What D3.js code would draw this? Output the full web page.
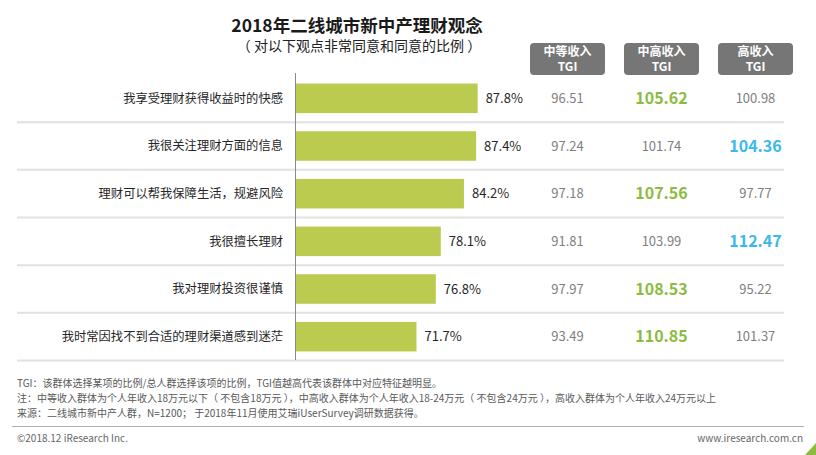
<!DOCTYPE html>
<html>
<head>
<meta charset="utf-8">
<script src="https://cdn.jsdelivr.net/npm/d3@7"></script>
<style>
  html, body { margin: 0; padding: 0; background: #fff; }
  svg { display: block; font-family: "Noto Sans CJK SC", "Microsoft YaHei", sans-serif; }
</style>
</head>
<body>
<svg id="chart" width="816" height="455"></svg>
<script>
const categories = [
  "我享受理财获得收益时的快感",
  "我很关注理财方面的信息",
  "理财可以帮我保障生活，规避风险",
  "我很擅长理财",
  "我对理财投资很谨慎",
  "我时常因找不到合适的理财渠道感到迷茫"
];
const values = [87.8, 87.4, 84.2, 78.1, 76.8, 71.7];
const tgiHeaders = [["中等收入", "TGI"], ["中高收入", "TGI"], ["高收入", "TGI"]];
const tgiMiddle = [96.51, 97.24, 97.18, 91.81, 97.97, 93.49];
const tgiUpperMiddle = [105.62, 101.74, 107.56, 103.99, 108.53, 110.85];
const tgiHigh = [100.98, 104.36, 97.77, 112.47, 95.22, 101.37];
const title = "2018年二线城市新中产理财观念";
const subtitle = "（ 对以下观点非常同意和同意的比例 ）";
const notes = [
  "TGI：该群体选择某项的比例/总人群选择该项的比例，TGI值越高代表该群体中对应特征越明显。",
  "注：中等收入群体为个人年收入18万元以下（ 不包含18万元 ），中高收入群体为个人年收入18-24万元（ 不包含24万元 ），高收入群体为个人年收入24万元以上",
  "来源：二线城市新中产人群，N=1200； 于2018年11月使用艾瑞iUserSurvey调研数据获得。"
];
const copyright = "©2018.12 iResearch Inc.";
const website = "www.iresearch.com.cn";

const svg = d3.select("#chart");
const barColor = "#bacb50";
const hiColors = [null, "#8cbc3f", "#3cb8ea"];

const y = d3.scaleBand().domain(categories).range([74.5, 360.5]).paddingInner(0.38).paddingOuter(0.19);
const x = d3.scaleLinear().domain([40, 100]).range([296, 524]);
const colX = d3.scalePoint().domain([0, 1, 2]).range([567.5, 755.5]);
const step = y.step();

// Title
svg.append("text").attr("x", 357).attr("y", 32).attr("text-anchor", "middle")
  .attr("font-size", 17.5).attr("font-weight", "bold").attr("fill", "#1a1a1a").text(title);
svg.append("text").attr("x", 359).attr("y", 51).attr("text-anchor", "middle")
  .attr("font-size", 14).attr("fill", "#222")
  .style("white-space", "pre").text(subtitle);

// Row separators
svg.append("g").selectAll("line").data(categories).join("line")
  .attr("x1", 17).attr("x2", 784)
  .attr("y1", d => y(d) - y.paddingInner() * step / 2 + step)
  .attr("y2", d => y(d) - y.paddingInner() * step / 2 + step)
  .attr("stroke", "#e1e1e1").attr("stroke-width", 2);

// Bars
svg.append("g").selectAll("rect").data(categories).join("rect")
  .attr("x", x(40)).attr("y", d => y(d))
  .attr("width", (d, i) => x(values[i]) - x(40))
  .attr("height", y.bandwidth())
  .attr("fill", barColor);

// Axis line
svg.append("line").attr("x1", 295.5).attr("x2", 295.5).attr("y1", 73).attr("y2", 360)
  .attr("stroke", "#8a8a8a").attr("stroke-width", 1);

// Category labels
svg.append("g").selectAll("text").data(categories).join("text")
  .attr("x", 283).attr("y", d => y(d) + y.bandwidth() / 2)
  .attr("dy", "0.35em").attr("text-anchor", "end")
  .attr("font-size", 12.3).attr("fill", "#262626").text(d => d);

// Value labels
svg.append("g").selectAll("text").data(values).join("text")
  .attr("x", v => x(v) + 8).attr("y", (v, i) => y(categories[i]) + y.bandwidth() / 2)
  .attr("dy", "0.35em").attr("font-size", 13).attr("fill", "#262626")
  .text(v => v.toFixed(1) + "%");

// TGI headers
const hdr = svg.append("g").selectAll("g").data(tgiHeaders).join("g")
  .attr("transform", (d, i) => `translate(${colX(i)},0)`);
hdr.append("rect").attr("x", -37.5).attr("y", 43).attr("width", 75).attr("height", 32)
  .attr("rx", 4).attr("fill", "#767676");
hdr.append("text").attr("text-anchor", "middle").attr("x", 0).attr("y", 56)
  .attr("font-size", 12).attr("font-weight", "bold").attr("fill", "#fff").text(d => d[0]);
hdr.append("text").attr("text-anchor", "middle").attr("x", 0).attr("y", 71)
  .attr("font-size", 12).attr("font-weight", "bold").attr("fill", "#fff").text(d => d[1]);

// TGI values
const tgiCols = [tgiMiddle, tgiUpperMiddle, tgiHigh];
categories.forEach((c, r) => {
  const rowVals = tgiCols.map(col => col[r]);
  const mx = d3.max(rowVals);
  rowVals.forEach((v, ci) => {
    const hi = v === mx && hiColors[ci];
    svg.append("text")
      .attr("x", colX(ci)).attr("y", y(c) + y.bandwidth() / 2).attr("dy", "0.35em")
      .attr("text-anchor", "middle")
      .attr("font-size", hi ? 16 : 13)
      .attr("font-weight", hi ? "bold" : "normal")
      .attr("fill", hi ? hiColors[ci] : "#7f7f7f")
      .text(v.toFixed(2));
  });
});

// Notes
svg.append("g").selectAll("text").data(notes).join("text")
  .attr("x", 17).attr("y", (d, i) => 387 + i * 15)
  .attr("font-size", 10).attr("fill", "#595959")
  .style("white-space", "pre").text(d => d);

// Footer
svg.append("line").attr("x1", 12).attr("x2", 804).attr("y1", 426.5).attr("y2", 426.5)
  .attr("stroke", "#b0b0b0").attr("stroke-width", 1);
svg.append("text").attr("x", 17).attr("y", 442).attr("font-size", 10).attr("fill", "#666").text(copyright);
svg.append("text").attr("x", 803).attr("y", 442).attr("text-anchor", "end")
  .attr("font-size", 10).attr("fill", "#666").text(website);
svg.append("path").attr("d", "M816,443 L816,455 L805,455 Z").attr("fill", "#8cbc3f");
</script>
</body>
</html>
